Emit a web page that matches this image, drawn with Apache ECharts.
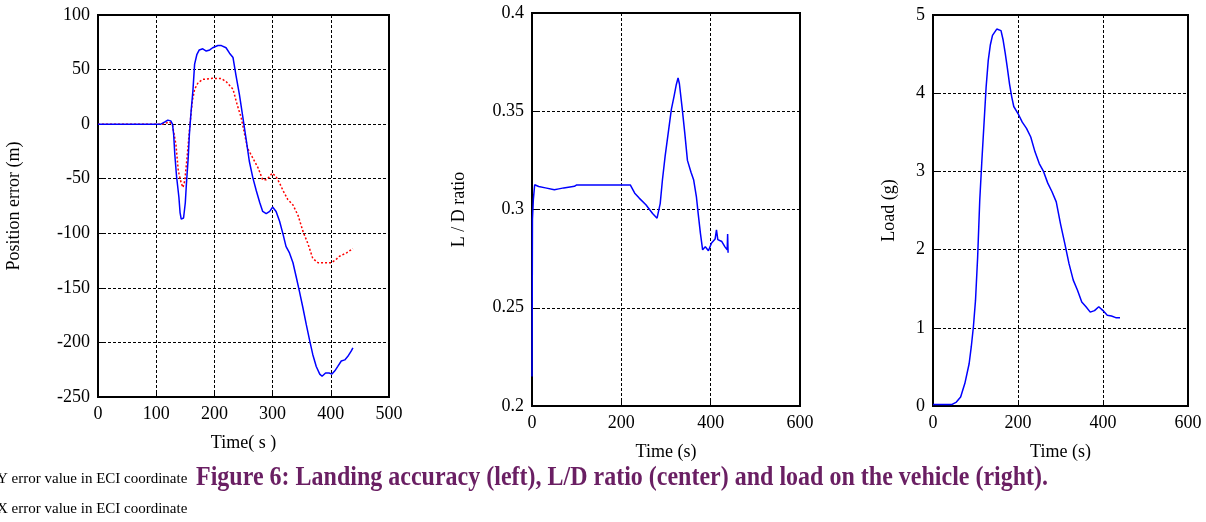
<!DOCTYPE html>
<html>
<head>
<meta charset="utf-8">
<script src="https://cdn.jsdelivr.net/npm/echarts@6/dist/echarts.min.js"></script>
<style>
  html, body { margin: 0; padding: 0; background: #fff; }
  #chart { width: 1206px; height: 522px; }
</style>
</head>
<body>
<div id="chart"></div>
<script>
// Left panel: landing accuracy (position error, m)
const posTimeY = [0, 60, 108, 115, 120, 125, 128, 130, 132, 135, 139, 141, 143, 147, 150, 152, 155, 157, 160, 163, 166, 170, 174, 180, 186, 192, 197, 206, 212, 220, 226, 232, 237, 243, 249, 255, 260, 266, 272, 278, 283, 289, 295, 300, 306, 312, 318, 323, 329, 335, 341, 346, 352, 358, 364, 369, 375, 381, 385, 391, 397, 402, 407, 412, 418, 424, 429, 435, 438];
const posErrY  = [0, 0, 0, 2, 3.7, 3, 0, -9.5, -28, -48, -67, -81, -87, -86, -72, -54, -31, -9.5, 12, 30, 55, 64, 68, 69, 67, 68, 70, 72, 72, 70, 65, 61, 45, 27, 6, -15.6, -34, -49, -61, -72, -80, -82, -80, -76, -80, -89, -101, -112, -118, -127, -141, -153, -168, -184, -199, -211, -222, -229, -231, -228, -228, -229, -226, -222, -217, -216, -213, -208, -205];
const posTimeX = [0, 60, 111, 123, 128, 134, 138, 143, 146, 149, 153, 157, 162, 166, 172, 180, 197, 212, 220, 232, 239, 246, 252, 257, 266, 275, 283, 289, 295, 299, 306, 312, 318, 326, 335, 344, 352, 361, 369, 378, 389, 401, 409, 415, 427, 438];
const posErrX  = [0, 0, 0, 2, -1, -19, -43, -54, -58, -52, -31, -6, 21, 32, 38, 41, 42, 41.7, 39, 32, 18, 6, -9.5, -22, -31, -40, -51, -51, -48, -45, -48, -54, -61, -69, -74, -84, -98, -110, -123, -127, -127, -127, -124, -121, -118, -114];

// Centre panel: L/D ratio
const ldTime  = [0, 1, 3, 6, 15, 30, 50, 60, 71, 75, 85, 95, 100, 220, 230, 240, 255, 270, 280, 283, 287, 292, 298, 305, 312, 318, 323, 327, 330, 336, 342, 348, 356, 362, 368, 372, 377, 382, 388, 395, 402, 410, 413, 416, 425, 432, 437, 438, 439];
const ldRatio = [0.215, 0.295, 0.305, 0.3126, 0.3117, 0.311, 0.310, 0.3105, 0.311, 0.310, 0.3115, 0.3118, 0.3125, 0.3125, 0.3083, 0.3058, 0.3024, 0.298, 0.2956, 0.2965, 0.303, 0.315, 0.327, 0.339, 0.351, 0.3576, 0.3635, 0.367, 0.364, 0.352, 0.339, 0.325, 0.319, 0.315, 0.3066, 0.298, 0.288, 0.2795, 0.281, 0.279, 0.283, 0.285, 0.2897, 0.2847, 0.2837, 0.281, 0.2795, 0.2875, 0.278];

// Right panel: load (g)
const loadTime = [0, 45, 55, 65, 75, 85, 90, 95, 100, 105, 110, 115, 120, 125, 130, 135, 140, 150, 160, 165, 170, 175, 180, 185, 190, 200, 210, 220, 230, 240, 250, 260, 270, 280, 290, 300, 310, 320, 330, 340, 350, 360, 370, 380, 390, 400, 410, 420, 430, 440];
const loadG    = [0.02, 0.02, 0.05, 0.115, 0.29, 0.54, 0.755, 1.01, 1.35, 1.9, 2.63, 3.14, 3.61, 4.08, 4.42, 4.62, 4.74, 4.82, 4.8, 4.68, 4.51, 4.32, 4.12, 3.96, 3.83, 3.74, 3.63, 3.55, 3.44, 3.25, 3.1, 3.0, 2.85, 2.74, 2.61, 2.33, 2.08, 1.82, 1.61, 1.48, 1.33, 1.27, 1.2, 1.22, 1.27, 1.22, 1.16, 1.15, 1.13, 1.13];

const legendLabels = ['Y error value in ECI coordinate', 'X error value in ECI coordinate'];
const captionText = 'Figure 6: Landing accuracy (left), L/D ratio (center) and load on the vehicle (right).';

const zip = (xs, ys) => xs.map((x, i) => [x, ys[i]]);

const FONT = 'Liberation Serif';
const labelStyle = { color: '#000', fontFamily: FONT, fontSize: 18 };
const gridLine = { show: true, lineStyle: { color: '#000', type: [3, 2], width: 1 } };

function xAxisFor(gridIndex, max, interval, name) {
    return {
        type: 'value', gridIndex, min: 0, max, interval,
        name, nameLocation: 'middle', nameGap: 37,
        nameTextStyle: { color: '#000', fontFamily: FONT, fontSize: 18 },
        axisLine: { show: true, onZero: false, lineStyle: { color: '#000', width: 2 } },
        axisTick: { show: true, inside: true, length: 5, lineStyle: { color: '#000' } },
        axisLabel: Object.assign({ margin: 8 }, labelStyle),
        splitLine: gridLine
    };
}

function yAxisFor(gridIndex, min, max, interval, name, nameGap) {
    return {
        type: 'value', gridIndex, min, max, interval,
        name, nameLocation: 'middle', nameGap,
        nameTextStyle: { color: '#000', fontFamily: FONT, fontSize: 18 },
        axisLine: { show: true, onZero: false, lineStyle: { color: '#000', width: 2 } },
        axisTick: { show: true, inside: true, length: 5, lineStyle: { color: '#000' } },
        axisLabel: Object.assign({ margin: 8 }, labelStyle),
        splitLine: gridLine
    };
}

const chart = echarts.init(document.getElementById('chart'));
chart.setOption({
    backgroundColor: '#fff',
    animation: false,
    grid: [
        { left: 98, top: 15, width: 291, height: 382, show: true, borderColor: '#000', borderWidth: 2 },
        { left: 532, top: 13, width: 268, height: 393, show: true, borderColor: '#000', borderWidth: 2 },
        { left: 933, top: 15, width: 255, height: 391, show: true, borderColor: '#000', borderWidth: 2 }
    ],
    xAxis: [
        xAxisFor(0, 500, 100, 'Time( s )'),
        xAxisFor(1, 600, 200, 'Time (s)'),
        xAxisFor(2, 600, 200, 'Time (s)')
    ],
    yAxis: [
        yAxisFor(0, -250, 100, 50, 'Position error (m)', 75),
        yAxisFor(1, 0.2, 0.4, 0.05, 'L / D ratio', 64),
        yAxisFor(2, 0, 5, 1, 'Load (g)', 35)
    ],
    series: [
        {
            name: legendLabels[1], type: 'line', xAxisIndex: 0, yAxisIndex: 0,
            data: zip(posTimeX, posErrX), showSymbol: false,
            lineStyle: { color: '#ff0000', width: 1.5, type: [2, 2] }
        },
        {
            name: legendLabels[0], type: 'line', xAxisIndex: 0, yAxisIndex: 0,
            data: zip(posTimeY, posErrY), showSymbol: false,
            lineStyle: { color: '#0000ff', width: 1.5 }
        },
        {
            name: 'L/D ratio', type: 'line', xAxisIndex: 1, yAxisIndex: 1,
            data: zip(ldTime, ldRatio), showSymbol: false,
            lineStyle: { color: '#0000ff', width: 1.5 }
        },
        {
            name: 'Load', type: 'line', xAxisIndex: 2, yAxisIndex: 2,
            data: zip(loadTime, loadG), showSymbol: false,
            lineStyle: { color: '#0000ff', width: 1.5 }
        }
    ],
    graphic: [
        {
            type: 'text', left: -3, top: 472,
            style: { text: legendLabels[0], fill: '#000', font: '15px "Liberation Serif"' }
        },
        {
            type: 'text', left: -3, top: 502,
            style: { text: legendLabels[1], fill: '#000', font: '15px "Liberation Serif"' }
        },
        {
            type: 'text', x: 196, y: 478,
            style: { text: captionText, fill: '#6a1f63', font: 'bold 24px "Liberation Serif"', verticalAlign: 'middle' },
            scaleY: 1.12
        }
    ]
});

window.addEventListener('resize', () => chart.resize());
</script>
</body>
</html>
